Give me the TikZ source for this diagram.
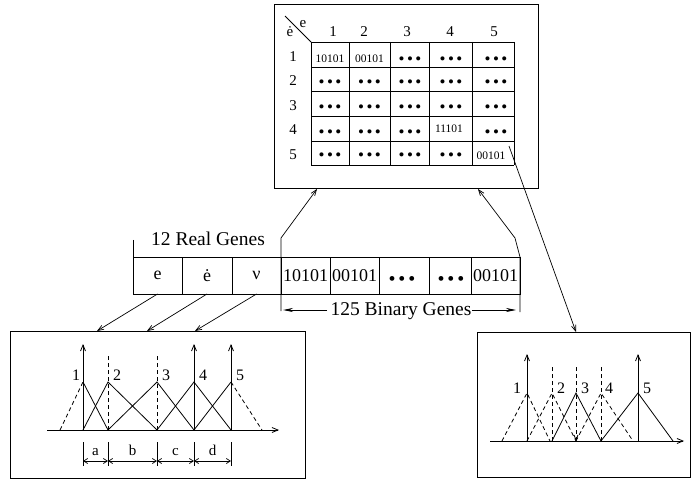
\documentclass[tikz,border=0pt]{standalone}
\usepackage{fontspec}
\setmainfont{Liberation Serif}
\usetikzlibrary{arrows.meta}
\newcommand\bdots{\textbullet\hspace{0.14em}\textbullet\hspace{0.14em}\textbullet}
\begin{document}
\begin{tikzpicture}[x=1pt,y=-1pt,line width=0.8pt,
  frame/.style={draw,line width=1pt,inner sep=0pt,outer sep=0pt,anchor=north west},
  gene/.style={draw,line width=0.8pt,inner sep=0pt,outer sep=0pt,minimum height=37pt,font=\fontsize{18}{20}\selectfont},
  cellt/.style={inner sep=0pt,font=\fontsize{11.5}{13}\selectfont},
  celld/.style={inner sep=0pt,font=\fontsize{17}{18}\selectfont},
  hdr/.style={inner sep=0pt,font=\fontsize{15}{17}\selectfont},
  lbl/.style={inner sep=0pt,font=\fontsize{16}{18}\selectfont},
  big/.style={inner sep=0pt,font=\fontsize{19.5}{21}\selectfont},
  bigd/.style={inner sep=0pt,font=\fontsize{20}{22}\selectfont},
  conn/.style={-{Straight Barb[length=6pt,width=4.5pt]},line width=0.7pt},
  barr/.style={-{Stealth[length=10pt,width=4pt]},line width=0.8pt},
  axarr/.style={-{Straight Barb[length=6pt,width=5pt]},line width=0.8pt},
  dimarr/.style={{Straight Barb[length=4pt,width=5pt]}-{Straight Barb[length=4pt,width=5pt]},line width=0.7pt},
  dsh/.style={dash pattern=on 4pt off 3pt}]
\useasboundingbox (0,0) rectangle (691,481);

% ---------- top box with table ----------
\node[frame,minimum width=264pt,minimum height=184pt] (topbox) at (274,5) {};
\foreach \x in {311,349,390,429,472,514} \draw (\x,42) -- (\x,165);
\foreach \y in {42,67,91,116,141,165} \draw (311,\y) -- (514,\y);
\draw (285,16) -- (311,42);
\node[hdr] (ecol) at (303,24) {e};
\node[hdr] (erow) at (290,32) {ė};
\foreach \x/\t in {333/1,364/2,407/3,450/4,494/5} \node[hdr] (h\t) at (\x,32) {\t};
\foreach \y/\t in {57/1,81/2,106/3,130/4,155/5} \node[hdr] (r\t) at (293,\y) {\t};
% cells
\node[cellt] (c11) at (330,59) {10101};
\node[cellt] (c12) at (369.5,59) {00101};
\node[celld] (c13) at (410,61) {\bdots};
\node[celld] (c14) at (451,61) {\bdots};
\node[celld] (c15) at (496,61) {\bdots};
\foreach \i/\y in {2/84,3/109} {
  \node[celld] (c\i1) at (330,\y) {\bdots};
  \node[celld] (c\i2) at (369.5,\y) {\bdots};
  \node[celld] (c\i3) at (410,\y) {\bdots};
  \node[celld] (c\i4) at (451,\y) {\bdots};
  \node[celld] (c\i5) at (496,\y) {\bdots};
}
\node[celld] (c41) at (330,133.5) {\bdots};
\node[celld] (c42) at (369.5,133.5) {\bdots};
\node[celld] (c43) at (410,133.5) {\bdots};
\node[cellt] (c44) at (449,129) {11101};
\node[celld] (c45) at (496,133.5) {\bdots};
\node[celld] (c51) at (330,157) {\bdots};
\node[celld] (c52) at (369.5,157) {\bdots};
\node[celld] (c53) at (410,157) {\bdots};
\node[celld] (c54) at (451,157) {\bdots};
\node[cellt] (c55) at (491,156) {00101};

% ---------- chromosome ----------
\node[big] (real) at (208,239) {12 Real Genes};
\draw (133,240) -- (133,257);
\node[gene,minimum width=49pt,anchor=north west] (g1) at (133,257) {e};
\node[gene,minimum width=50pt,anchor=north west] (g2) at (182,257) {ė};
\node[gene,minimum width=49pt,anchor=north west] (g3) at (232,257) {ν};
\node[gene,minimum width=49pt,anchor=north west] (g4) at (281,257) {10101};
\node[gene,minimum width=49pt,anchor=north west] (g5) at (330,257) {00101};
\node[gene,minimum width=50pt,anchor=north west] (g6) at (379,257) {};
\node[gene,minimum width=42pt,anchor=north west] (g7) at (429,257) {};
\node[gene,minimum width=49pt,anchor=north west] (g8) at (471,257) {00101};
\node[bigd] (d6) at (402,281) {\bdots};
\node[bigd] (d7) at (451,281) {\bdots};

\node[big,anchor=base] (bin) at (401,316) {125 Binary Genes};
\coordinate (lb) at (283,310);
\coordinate (rb) at (516,310);
\draw[barr] ([xshift=-3pt]bin.west |- lb) -- (lb);
\draw[barr] (bin.east |- rb) -- (rb);

% connectors from chromosome to top box
\coordinate (ls) at (281,311);
\coordinate (lk) at (281,238);
\coordinate (rs) at (520,312);
\coordinate (rk1) at (520,257);
\coordinate (rk2) at (515,238);
\coordinate (tlx) at (317,0);
\coordinate (trx) at (478,0);
\draw[conn] (ls) -- (lk) -- (topbox.south -| tlx);
\draw[conn] (rs) -- (rk1) -- (rk2) -- (topbox.south -| trx);

% ---------- lower boxes ----------
\node[frame,minimum width=295pt,minimum height=147pt] (lbox) at (10,331) {};
\node[frame,minimum width=213pt,minimum height=145pt] (rbox) at (477,332) {};

\coordinate (la) at (97,0);
\coordinate (lbb) at (147,0);
\coordinate (lc) at (195,0);
\draw[conn] (g1.south) -- (lbox.north -| la);
\draw[conn] (g2.south) -- (lbox.north -| lbb);
\draw[conn] (g3.south) -- (lbox.north -| lc);

\coordinate (c55tip) at (509,146);
\coordinate (rtx) at (576,0);
\draw[conn] (c55tip) -- (rbox.north -| rtx);

% ---------- left membership functions ----------
\draw[axarr] (47,430) -- (279,430);
\foreach \x in {83,194,231} \draw[axarr] (\x,430) -- (\x,344);
\draw[dsh] (108,430) -- (108,355);
\draw[dsh] (157,430) -- (157,355);
\draw[dsh] (60,430) -- (83,382);
\draw (83,382) -- (108,430);
\draw (83,430) -- (108,382) -- (157,430);
\draw (108,430) -- (157,382) -- (194,430);
\draw (157,430) -- (194,382) -- (231,430);
\draw (194,430) -- (231,382);
\draw[dsh] (231,382) -- (262,430);
\node[lbl] (m1) at (76,375) {1};
\node[lbl] (m2) at (117,375) {2};
\node[lbl] (m3) at (166,375) {3};
\node[lbl] (m4) at (203,375) {4};
\node[lbl] (m5) at (240,375) {5};
\foreach \x in {83,108,157,194,231} \draw (\x,442) -- (\x,466);
\draw[dimarr] (83,461) -- (108,461);
\draw[dimarr] (108,461) -- (157,461);
\draw[dimarr] (157,461) -- (194,461);
\draw[dimarr] (194,461) -- (231,461);
\node[hdr,anchor=base] (da) at (95.5,455) {a};
\node[hdr,anchor=base] (db) at (132.5,455) {b};
\node[hdr,anchor=base] (dc) at (175.5,455) {c};
\node[hdr,anchor=base] (dd) at (212.5,455) {d};

% ---------- right membership functions ----------
\draw[axarr] (490,441) -- (684,441);
\foreach \x in {527,638} \draw[axarr] (\x,441) -- (\x,354);
\draw[dsh] (552,441) -- (552,367);
\draw[dsh] (601,441) -- (601,367);
\draw[dsh,-{Straight Barb[length=5pt,width=4pt]}] (576,367) -- (576,441);
\draw[dsh] (502,441) -- (527,393) -- (550,441);
\draw[dsh] (527,441) -- (552,393) -- (576,441);
\draw (552,441) -- (576,393) -- (601,441);
\draw[dsh] (576,441) -- (601,393) -- (633,441);
\draw (601,441) -- (638,393) -- (673,441);
\node[lbl] (n1) at (517,388) {1};
\node[lbl] (n2) at (561,388) {2};
\node[lbl] (n3) at (585,388) {3};
\node[lbl] (n4) at (609,388) {4};
\node[lbl] (n5) at (647,388) {5};
\end{tikzpicture}
\end{document}
